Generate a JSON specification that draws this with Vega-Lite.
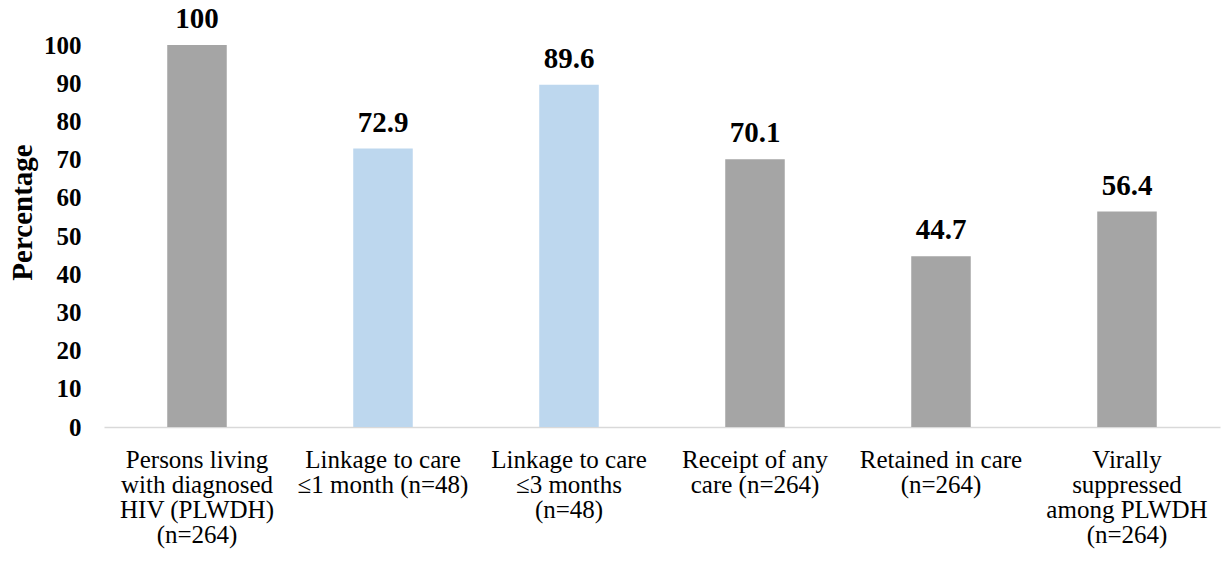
{
  "$schema": "https://vega.github.io/schema/vega-lite/v6.json",
  "width": 1116,
  "height": 382,
  "autosize": {"type": "none"},
  "padding": {"left": 104, "top": 45, "right": 3, "bottom": 138},
  "background": "white",
  "config": {
    "view": {"stroke": null},
    "font": "Liberation Serif",
    "axis": {"labelFont": "Liberation Serif", "titleFont": "Liberation Serif"},
    "text": {"font": "Liberation Serif"}
  },
  "data": {
    "values": [
      {"stage": "Persons living|with diagnosed|HIV (PLWDH)|(n=264)", "value": 100, "type": "cascade"},
      {"stage": "Linkage to care|≤1 month (n=48)", "value": 72.9, "type": "linkage"},
      {"stage": "Linkage to care|≤3 months|(n=48)", "value": 89.6, "type": "linkage"},
      {"stage": "Receipt of any|care (n=264)", "value": 70.1, "type": "cascade"},
      {"stage": "Retained in care|(n=264)", "value": 44.7, "type": "cascade"},
      {"stage": "Virally|suppressed|among PLWDH|(n=264)", "value": 56.4, "type": "cascade"}
    ]
  },
  "encoding": {
    "x": {
      "field": "stage",
      "type": "nominal",
      "sort": null,
      "scale": {"paddingInner": 0.68, "paddingOuter": 0.34},
      "axis": {
        "title": null,
        "labelAngle": 0,
        "labelExpr": "split(datum.label, '|')",
        "labelFont": "Liberation Serif",
        "labelFontSize": 25,
        "labelLineHeight": 25,
        "labelColor": "black",
        "labelBaseline": "top",
        "labelPadding": 20,
        "labelLimit": 0,
        "ticks": false,
        "domainColor": "#D9D9D9",
        "domainWidth": 1.5
      }
    },
    "y": {
      "field": "value",
      "type": "quantitative",
      "scale": {"domain": [0, 100], "nice": false},
      "axis": {
        "title": "Percentage",
        "titleFont": "Liberation Serif",
        "titleFontSize": 29,
        "titleFontWeight": "bold",
        "titleColor": "black",
        "titleX": -82,
        "titleY": 167,
        "titleAngle": -90,
        "titleAlign": "center",
        "titleBaseline": "middle",
        "values": [0, 10, 20, 30, 40, 50, 60, 70, 80, 90, 100],
        "labelFont": "Liberation Serif",
        "labelFontSize": 25,
        "labelFontWeight": "bold",
        "labelColor": "black",
        "labelPadding": 23,
        "ticks": false,
        "tickSize": 0,
        "domain": false,
        "grid": false
      }
    }
  },
  "layer": [
    {
      "mark": {"type": "bar"},
      "encoding": {
        "color": {
          "field": "type",
          "type": "nominal",
          "scale": {"domain": ["cascade", "linkage"], "range": ["#A5A5A5", "#BDD7EE"]},
          "legend": null
        }
      }
    },
    {
      "mark": {"type": "text", "dy": -17, "baseline": "alphabetic", "fontSize": 29, "fontWeight": "bold", "font": "Liberation Serif", "color": "black"},
      "encoding": {
        "text": {"field": "value", "type": "quantitative"}
      }
    }
  ]
}
